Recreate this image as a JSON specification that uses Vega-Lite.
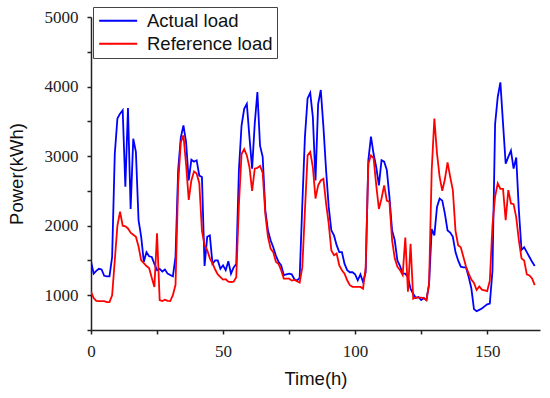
{
  "$schema": "https://vega.github.io/schema/vega-lite/v6.json",
  "width": 449,
  "height": 313,
  "autosize": {"type": "none"},
  "padding": {"left": 91, "top": 17, "right": 10, "bottom": 68},
  "background": "white",
  "config": {"view": {"stroke": null}},
  "data": {"values": [
    {"t":0,"actual":1490,"reference":1050},{"t":1,"actual":1310,"reference":960},{"t":2,"actual":1350,"reference":920},{"t":3,"actual":1380,"reference":915},{"t":4,"actual":1370,"reference":915},{"t":5,"actual":1280,"reference":915},{"t":6,"actual":1270,"reference":900},{"t":7,"actual":1270,"reference":900},{"t":8,"actual":1550,"reference":1000},{"t":9,"actual":3030,"reference":1500},
    {"t":10,"actual":3540,"reference":2000},{"t":11,"actual":3610,"reference":2200},{"t":12,"actual":3660,"reference":2000},{"t":13,"actual":2560,"reference":1990},{"t":14,"actual":3690,"reference":1960},{"t":15,"actual":2240,"reference":1900},{"t":16,"actual":3250,"reference":1870},{"t":17,"actual":3060,"reference":1840},{"t":18,"actual":2080,"reference":1700},{"t":19,"actual":1840,"reference":1500},
    {"t":20,"actual":1480,"reference":1460},{"t":21,"actual":1620,"reference":1420},{"t":22,"actual":1560,"reference":1390},{"t":23,"actual":1550,"reference":1250},{"t":24,"actual":1450,"reference":1120},{"t":25,"actual":1360,"reference":1890},{"t":26,"actual":1380,"reference":930},{"t":27,"actual":1340,"reference":915},{"t":28,"actual":1370,"reference":935},{"t":29,"actual":1310,"reference":920},
    {"t":30,"actual":1290,"reference":915},{"t":31,"actual":1270,"reference":1000},{"t":32,"actual":1550,"reference":1150},{"t":33,"actual":2800,"reference":2600},{"t":34,"actual":3270,"reference":3200},{"t":35,"actual":3440,"reference":3300},{"t":36,"actual":3200,"reference":2880},{"t":37,"actual":2650,"reference":2370},{"t":38,"actual":2950,"reference":2650},{"t":39,"actual":2920,"reference":2780},
    {"t":40,"actual":2940,"reference":2750},{"t":41,"actual":2720,"reference":2610},{"t":42,"actual":2700,"reference":1930},{"t":43,"actual":1420,"reference":1720},{"t":44,"actual":1840,"reference":1650},{"t":45,"actual":1860,"reference":1530},{"t":46,"actual":1450,"reference":1460},{"t":47,"actual":1500,"reference":1370},{"t":48,"actual":1500,"reference":1300},{"t":49,"actual":1380,"reference":1260},
    {"t":50,"actual":1430,"reference":1225},{"t":51,"actual":1360,"reference":1230},{"t":52,"actual":1490,"reference":1195},{"t":53,"actual":1310,"reference":1190},{"t":54,"actual":1400,"reference":1195},{"t":55,"actual":1450,"reference":1260},{"t":56,"actual":2800,"reference":2300},{"t":57,"actual":3440,"reference":3030},{"t":58,"actual":3680,"reference":3100},{"t":59,"actual":3750,"reference":3010},
    {"t":60,"actual":3270,"reference":2840},{"t":61,"actual":2820,"reference":2500},{"t":62,"actual":3470,"reference":2820},{"t":63,"actual":3920,"reference":2830},{"t":64,"actual":3150,"reference":2860},{"t":65,"actual":2990,"reference":2760},{"t":66,"actual":2220,"reference":2170},{"t":67,"actual":1930,"reference":1840},{"t":68,"actual":1790,"reference":1670},{"t":69,"actual":1690,"reference":1620},
    {"t":70,"actual":1570,"reference":1480},{"t":71,"actual":1480,"reference":1450},{"t":72,"actual":1430,"reference":1360},{"t":73,"actual":1290,"reference":1240},{"t":74,"actual":1300,"reference":1240},{"t":75,"actual":1310,"reference":1240},{"t":76,"actual":1300,"reference":1210},{"t":77,"actual":1230,"reference":1220},{"t":78,"actual":1210,"reference":1200},{"t":79,"actual":1250,"reference":1180},
    {"t":80,"actual":2300,"reference":1400},{"t":81,"actual":3280,"reference":2220},{"t":82,"actual":3830,"reference":3010},{"t":83,"actual":3910,"reference":3060},{"t":84,"actual":3560,"reference":2840},{"t":85,"actual":2650,"reference":2390},{"t":86,"actual":3750,"reference":2580},{"t":87,"actual":3950,"reference":2650},{"t":88,"actual":3420,"reference":2675},{"t":89,"actual":2800,"reference":2320},
    {"t":90,"actual":2270,"reference":2030},{"t":91,"actual":1930,"reference":1645},{"t":92,"actual":1860,"reference":1575},{"t":93,"actual":1720,"reference":1600},{"t":94,"actual":1620,"reference":1430},{"t":95,"actual":1620,"reference":1360},{"t":96,"actual":1450,"reference":1310},{"t":97,"actual":1360,"reference":1215},{"t":98,"actual":1330,"reference":1145},{"t":99,"actual":1330,"reference":1120},
    {"t":100,"actual":1300,"reference":1120},{"t":101,"actual":1215,"reference":1120},{"t":102,"actual":1300,"reference":1120},{"t":103,"actual":1190,"reference":1095},{"t":104,"actual":1330,"reference":1400},{"t":105,"actual":2940,"reference":2890},{"t":106,"actual":3280,"reference":3010},{"t":107,"actual":3030,"reference":2970},{"t":108,"actual":2840,"reference":2580},{"t":109,"actual":2580,"reference":2240},
    {"t":110,"actual":2940,"reference":2390},{"t":111,"actual":2920,"reference":2580},{"t":112,"actual":2800,"reference":2360},{"t":113,"actual":2410,"reference":2340},{"t":114,"actual":1930,"reference":1790},{"t":115,"actual":1790,"reference":1530},{"t":116,"actual":1500,"reference":1410},{"t":117,"actual":1420,"reference":1360},{"t":118,"actual":1310,"reference":1290},{"t":119,"actual":1310,"reference":1830},
    {"t":120,"actual":1260,"reference":1050},{"t":121,"actual":1090,"reference":1740},{"t":122,"actual":1020,"reference":950},{"t":123,"actual":960,"reference":970},{"t":124,"actual":975,"reference":965},{"t":125,"actual":930,"reference":965},{"t":126,"actual":960,"reference":960},{"t":127,"actual":930,"reference":930},{"t":128,"actual":1160,"reference":1160},{"t":129,"actual":1950,"reference":2800},
    {"t":130,"actual":1860,"reference":3540},{"t":131,"actual":2270,"reference":3040},{"t":132,"actual":2390,"reference":2700},{"t":133,"actual":2360,"reference":2500},{"t":134,"actual":2170,"reference":2670},{"t":135,"actual":1930,"reference":2910},{"t":136,"actual":1900,"reference":2700},{"t":137,"actual":1840,"reference":2510},{"t":138,"actual":1620,"reference":1930},{"t":139,"actual":1500,"reference":1720},
    {"t":140,"actual":1410,"reference":1690},{"t":141,"actual":1400,"reference":1550},{"t":142,"actual":1400,"reference":1410},{"t":143,"actual":1260,"reference":1310},{"t":144,"actual":1100,"reference":1225},{"t":145,"actual":800,"reference":1175},{"t":146,"actual":770,"reference":1075},{"t":147,"actual":790,"reference":1125},{"t":148,"actual":810,"reference":1080},{"t":149,"actual":840,"reference":1070},
    {"t":150,"actual":870,"reference":1060},{"t":151,"actual":880,"reference":1210},{"t":152,"actual":1350,"reference":2000},{"t":153,"actual":3460,"reference":2420},{"t":154,"actual":3850,"reference":2610},{"t":155,"actual":4060,"reference":2530},{"t":156,"actual":3470,"reference":2530},{"t":157,"actual":2890,"reference":2080},{"t":158,"actual":2990,"reference":2510},{"t":159,"actual":3080,"reference":2320},
    {"t":160,"actual":2820,"reference":2310},{"t":161,"actual":2980,"reference":2120},{"t":162,"actual":2220,"reference":1790},{"t":163,"actual":1650,"reference":1530},{"t":164,"actual":1690,"reference":1500},{"t":165,"actual":1620,"reference":1300},{"t":166,"actual":1550,"reference":1285},{"t":167,"actual":1480,"reference":1240},{"t":168,"actual":1420,"reference":1145}
  ]},
  "transform": [{"fold": ["actual", "reference"], "as": ["series", "value"]}],
  "mark": {"type": "line", "strokeWidth": 1.8, "clip": true},
  "encoding": {
    "x": {
      "field": "t", "type": "quantitative",
      "scale": {"domain": [0, 170], "nice": false, "zero": false},
      "axis": {
        "title": "Time(h)",
        "values": [0, 25, 50, 75, 100, 125, 150],
        "labelExpr": "datum.value % 50 == 0 ? datum.label : ''",
        "format": "d",
        "grid": false,
        "domainColor": "#222", "domainWidth": 1.5,
        "tickColor": "#222", "tickWidth": 1.5, "tickSize": 4,
        "labelFont": "Liberation Serif", "labelFontSize": 17, "labelColor": "#222", "labelPadding": 9, "labelFlush": false,
        "titleFont": "Liberation Sans", "titleFontSize": 18.5, "titleFontWeight": "normal", "titleColor": "#111", "titlePadding": 10
      }
    },
    "y": {
      "field": "value", "type": "quantitative",
      "scale": {"domain": [500, 5000], "nice": false, "zero": false},
      "axis": {
        "title": "Power(kWh)",
        "values": [500, 1000, 1500, 2000, 2500, 3000, 3500, 4000, 4500, 5000],
        "labelExpr": "datum.value % 1000 == 0 ? datum.label : ''",
        "format": "d",
        "grid": false,
        "domainColor": "#222", "domainWidth": 1.5,
        "tickColor": "#222", "tickWidth": 1.5, "tickSize": 4,
        "labelFont": "Liberation Serif", "labelFontSize": 17, "labelColor": "#222", "labelPadding": 9, "labelFlush": false,
        "titleFont": "Liberation Sans", "titleFontSize": 18.5, "titleFontWeight": "normal", "titleColor": "#111", "titlePadding": 18
      }
    },
    "color": {
      "field": "series", "type": "nominal",
      "scale": {"domain": ["actual", "reference"], "range": ["#0000FF", "#FF0000"]},
      "legend": {
        "title": null,
        "orient": "none", "legendX": 2, "legendY": -10,
        "labelExpr": "datum.label == 'actual' ? 'Actual load' : 'Reference load'",
        "symbolType": "M-1,0H4", "symbolSize": 231, "symbolStrokeWidth": 2, "symbolFillColor": "transparent",
        "labelFont": "Liberation Sans", "labelFontSize": 18.5, "labelColor": "#111", "labelOffset": 31,
        "strokeColor": "#444", "fillColor": "white", "padding": 4.5, "rowPadding": 4
      }
    }
  }
}
